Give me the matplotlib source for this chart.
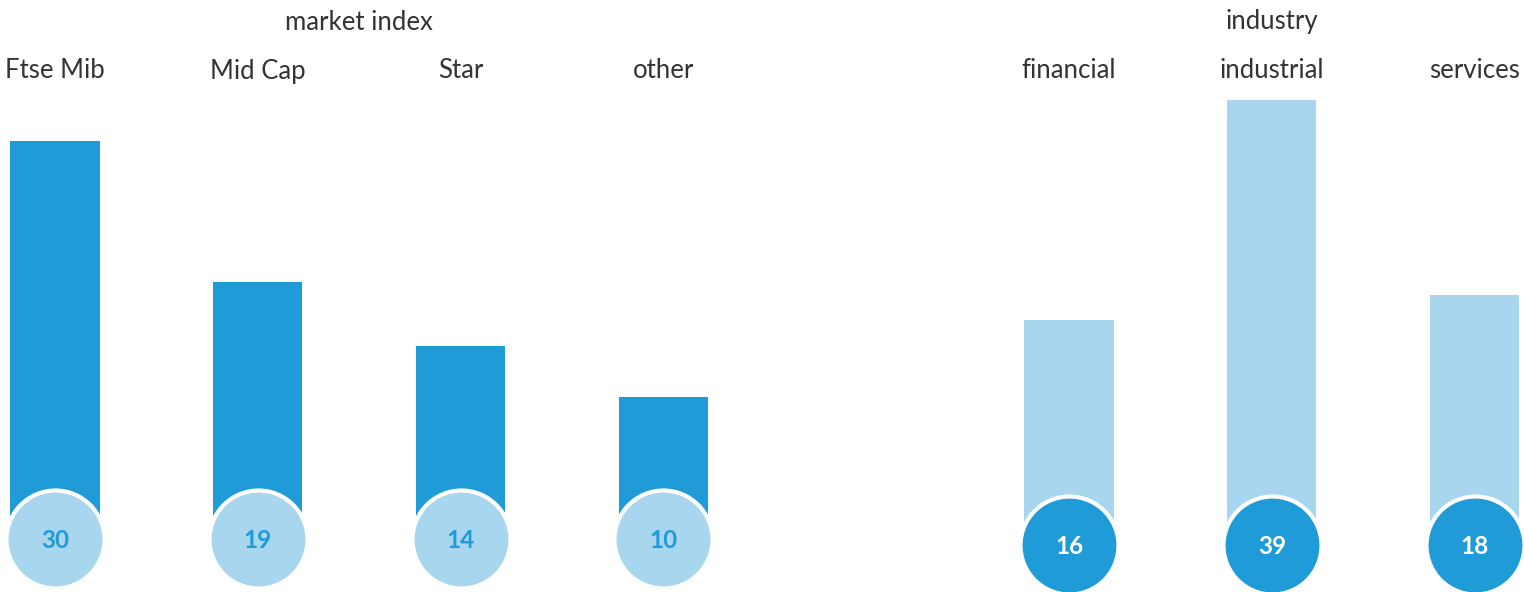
import matplotlib.pyplot as plt
from matplotlib.transforms import blended_transform_factory

# data
market_labels = ['Ftse Mib', 'Mid Cap', 'Star', 'other']
market_values = [30, 19, 14, 10]
industry_labels = ['financial', 'industrial', 'services']
industry_values = [16, 39, 18]

dark = '#1f9bd7'
light = '#a7d6ee'
txt = '#333333'
plt.rcParams['font.family'] = ['Lato', 'DejaVu Sans']

W, H = 1524, 592
fig = plt.figure(figsize=(W / 100, H / 100), dpi=100)

# axes from figure bottom up to y=100px (industrial bar is cut there)
ax = fig.add_axes([0, 0, 1, (H - 100) / H])
step = 202.8      # px between bars
k = 12.8          # px per unit
x0 = 55           # px of first bar centre
ax.set_xlim(-x0 / step, (W - x0) / step)
ax.set_ylim(-(H - 525) / k, 425 / k)
ax.axis('off')

mx = list(range(len(market_values)))
ix = [len(market_values) + 1 + i for i in range(len(industry_values))]

ax.bar(mx, market_values, width=0.44, color=dark, zorder=1)
ax.bar(ix, industry_values, width=0.44, color=light, zorder=1)

r_px = 49
s = (2 * r_px * 72 / 100) ** 2
ax.scatter(mx, [-14 / k] * len(mx), s=s, color=light, edgecolors='white',
           linewidths=3, zorder=3, clip_on=False)
ax.scatter(ix, [-20 / k] * len(ix), s=s, color=dark, edgecolors='white',
           linewidths=3, zorder=3, clip_on=False)

for x, v in zip(mx, market_values):
    ax.text(x, -15 / k, str(v), ha='center', va='center', fontsize=17.5,
            fontweight='bold', color=dark, zorder=4)
for x, v in zip(ix, industry_values):
    ax.text(x, -21 / k, str(v), ha='center', va='center', fontsize=17.5,
            fontweight='bold', color='white', zorder=4)

tr = blended_transform_factory(ax.transData, fig.transFigure)
for x, lab in zip(mx + ix, market_labels + industry_labels):
    ax.text(x, 1 - 71 / H, lab, transform=tr, ha='center', va='center',
            fontsize=18.5, color=txt, clip_on=False)

ax.text(1.5, 1 - 22 / H, 'market index', transform=tr, ha='center', va='center',
        fontsize=18.5, color=txt, clip_on=False)
ax.text(ix[1], 1 - 22 / H, 'industry', transform=tr, ha='center', va='center',
        fontsize=18.5, color=txt, clip_on=False)

fig.savefig('out.png', dpi=100, facecolor='white')
